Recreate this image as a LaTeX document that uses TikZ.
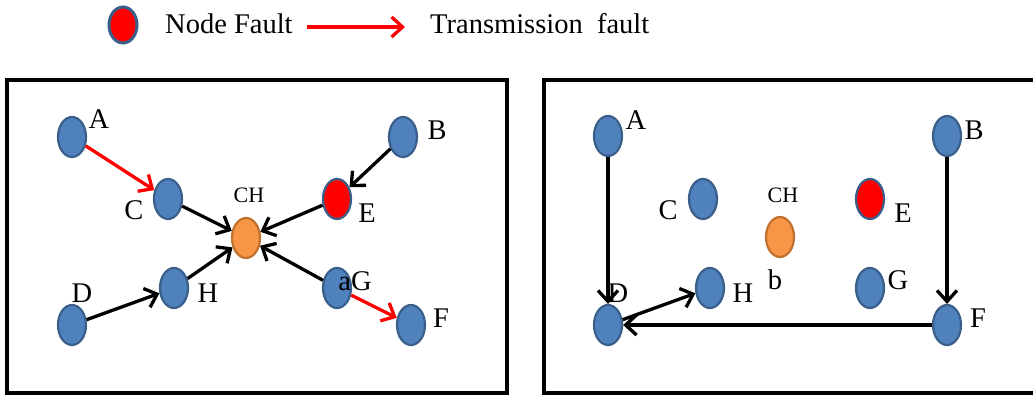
\documentclass[tikz,border=0pt]{standalone}
\usepackage{fontspec}
\setmainfont{Liberation Serif}
\usetikzlibrary{arrows.meta,shapes.geometric}
\definecolor{nblue}{HTML}{4F81BD}
\definecolor{nblueb}{HTML}{3A5F8B}
\definecolor{norange}{HTML}{F79646}
\definecolor{norangeb}{HTML}{C0712E}
\definecolor{nred}{HTML}{FF0000}
\tikzset{
  nd/.style={ellipse, draw=nblueb, line width=2.2pt, fill=nblue, minimum width=28pt, minimum height=40pt, inner sep=0pt},
  chnd/.style={nd, draw=norangeb, fill=norange},
  faultnd/.style={nd, fill=nred},
  lbl/.style={inner sep=0pt, font=\fontsize{28.5}{31}\selectfont},
  chlbl/.style={inner sep=0pt, font=\fontsize{22}{24}\selectfont},
  link/.style={line width=3.3pt, -{Straight Barb[length=11pt,width=20pt,line width=3.3pt]}},
  tlink/.style={link, draw=nred},
  panel/.style={draw=black, line width=3.5pt},
}
\begin{document}
\begin{tikzpicture}[x=1pt,y=-1pt]
\useasboundingbox (0,0) rectangle (1033,395);
\fill[white] (0,0) rectangle (1033,395);
% legend
\node[faultnd, line width=3pt, minimum width=28pt, minimum height=36pt] (lgE) at (123,25) {};
\node[lbl, anchor=west] (lgNF) at (165,24) {Node Fault};
\coordinate (lgA1) at (307,27);
\coordinate (lgA2) at (405,27);
\draw[tlink] (lgA1) -- (lgA2);
\node[lbl, anchor=west] (lgTF) at (430,24) {Transmission\ \ fault};
% panels
\draw[panel] (7,80) rectangle (507,393);
\draw[panel] (544,80) rectangle (1050,393);
% left panel nodes
\node[nd] (lA) at (72,137) {};
\node[nd] (lB) at (403,137) {};
\node[nd] (lC) at (168,199) {};
\node[chnd] (lCH) at (246,238) {};
\node[faultnd] (lE) at (337,199) {};
\node[nd] (lD) at (72,325) {};
\node[nd] (lH) at (174,288) {};
\node[nd] (lG) at (337,288) {};
\node[nd] (lF) at (411,325) {};
% left labels
\node[lbl] (lAl) at (99,119) {A};
\node[lbl] (lBl) at (437,130) {B};
\node[lbl] (lCl) at (134,210) {C};
\node[chlbl] (lCHl) at (249,195) {CH};
\node[lbl] (lEl) at (367,213) {E};
\node[lbl] (lDl) at (82,293) {D};
\node[lbl] (lHl) at (208,293) {H};
\node[lbl] (lGl) at (355,281) {aG};
\node[lbl] (lFl) at (441,318) {F};
% left arrows
\draw[tlink] (lA) -- (lC);
\draw[link] (lC) -- (lCH);
\draw[link] (lB) -- (lE);
\draw[link] (lE) -- (lCH);
\draw[link] (lD) -- (lH);
\draw[link] (lH) -- (lCH);
\draw[link] (lG) -- (lCH);
\draw[tlink] (lG) -- (lF);
% right panel nodes
\node[nd] (rA) at (608,136) {};
\node[nd] (rB) at (947,136) {};
\node[nd] (rC) at (703,199) {};
\node[chnd] (rCH) at (780,237) {};
\node[faultnd] (rE) at (870,199) {};
\node[nd] (rH) at (710,288) {};
\node[nd] (rG) at (870,288) {};
\node[nd] (rD) at (608,325) {};
\node[nd] (rF) at (947,325) {};
% right labels
\node[lbl] (rAl) at (636,120) {A};
\node[lbl] (rBl) at (974,130) {B};
\node[lbl] (rCl) at (668,210) {C};
\node[chlbl] (rCHl) at (783,195) {CH};
\node[lbl] (rEl) at (903,213) {E};
\node[lbl] (rHl) at (743,293) {H};
\node[lbl] (rbl) at (775,280) {b};
\node[lbl] (rGl) at (898,280) {G};
\node[lbl] (rDl) at (618,293) {D};
\node[lbl] (rFl) at (978,318) {F};
% right arrows
\draw[link] (rA) -- (rD);
\draw[link] (rB) -- (rF);
\draw[link] (rF) -- (rD);
\draw[link] (rD) -- (rH);
\end{tikzpicture}
\end{document}
